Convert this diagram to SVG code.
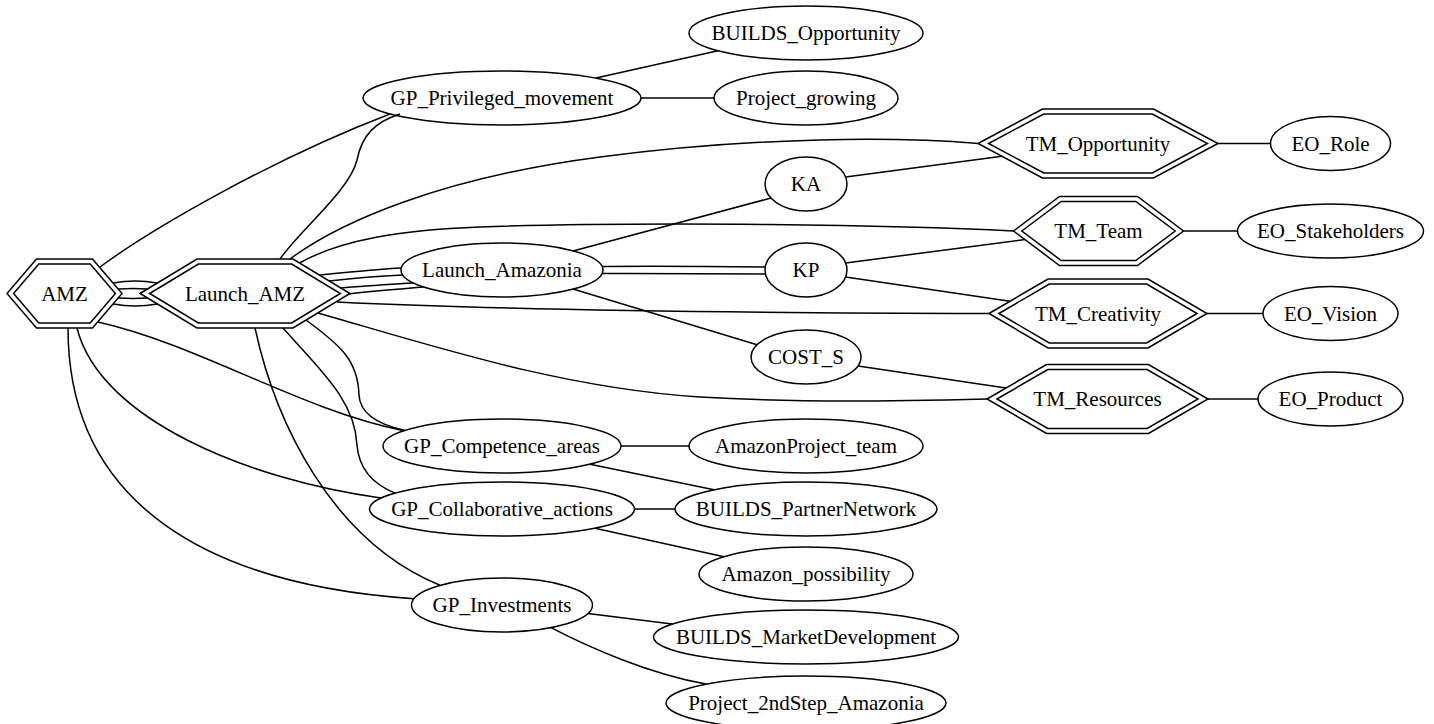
<svg xmlns="http://www.w3.org/2000/svg" width="1434" height="724" viewBox="0 0 1434 724">
  <style>
    .node ellipse, .node polygon { fill: none; stroke: #000; stroke-width: 1.5; }
    text { font-family: "Liberation Serif", "Times New Roman", serif; font-size: 21px; text-anchor: middle; fill: #000; }
    #edges path { fill: none; stroke: #000; stroke-width: 1.5; }
  </style>
  <rect width="1434" height="724" fill="#fff"/>

  <!-- connectors -->
  <g id="edges">
    <!-- from AMZ -->
    <path d="M100,267 C150,230 270,160 390,114"/>
    <path d="M113.2,283 C126,280.5 144,280.5 157.3,283"/>
    <path d="M118.2,289 C128,288.5 138,288.5 147.4,289"/>
    <path d="M118.2,298 C128,298.5 138,298.5 147.4,298"/>
    <path d="M113.2,304 C126,306.5 144,306.5 157.3,304"/>
    <path d="M98,322 C200,345 300,410 404,430.7"/>
    <path d="M77,328 C100,420 250,480 381,498"/>
    <path d="M68,328 C68,505 210,585 414,598.7"/>
    <!-- from Launch_AMZ -->
    <path d="M280,259 C300,230 350,190 357,160 C362,135 375,122 400,114"/>
    <path d="M290,259 C340,222 440,178 600,157 C760,136 900,137 978,143.5"/>
    <path d="M299.6,263 C340,240 400,230 480,227 C650,221 900,225 1013.5,231"/>
    <path d="M320,275 C350,272 380,269 401.3,268"/>
    <path d="M329,281 C355,278 380,276 402.7,275"/>
    <path d="M340,288 C365,286 390,284 413.5,283"/>
    <path d="M348,294 C375,291 400,289 423.5,287"/>
    <path d="M337,302 C500,310 750,313 989,313.5"/>
    <path d="M318,313 C430,345 560,388 700,397 C800,403 900,401 987,399"/>
    <path d="M306,320 C340,345 358,360 359,395 C360,415 380,425 405,430.4"/>
    <path d="M283,328 C320,370 355,400 357,445 C359,470 375,485 395,493.1"/>
    <path d="M255,328 C275,420 330,540 440,585.3"/>
    <!-- from Launch_Amazonia -->
    <path d="M573,251 L771,198"/>
    <path d="M602.2,266.5 C660,266 720,266.5 765.3,267"/>
    <path d="M602.2,273.5 C660,273.5 720,274 765.3,274"/>
    <path d="M573,289 L757,344.7"/>
    <!-- KA / KP / COST_S to TM -->
    <path d="M845.6,177 L1002,156.3"/>
    <path d="M845.6,263 L1025,239.6"/>
    <path d="M845.6,277 L1010,301.2"/>
    <path d="M858,366 L1006,388"/>
    <!-- TM to EO -->
    <path d="M1218,143.5 L1270.5,143.5"/>
    <path d="M1183.5,231 L1237.5,231"/>
    <path d="M1207,313.5 L1263,313.5"/>
    <path d="M1208,399 L1258,399"/>
    <!-- GP nodes to outcomes -->
    <path d="M596,78.1 L718,50.8"/>
    <path d="M641,98 L714,98"/>
    <path d="M621,446 L689,446"/>
    <path d="M590,464.2 L714,489.8"/>
    <path d="M634.5,509 L675,509"/>
    <path d="M595,528.2 L724,556.7"/>
    <path d="M588,613.4 L672,624.1"/>
    <path d="M551,627.7 C590,648 650,674 706,684.1"/>
  </g>

  <!-- double-bordered hexagons -->
  <g id="AMZ" class="node">
    <polygon points="7,293.5 36.5,259 92.5,259 122,293.5 92.5,328 36.5,328"/>
    <polygon points="13.6,293.5 38.8,264 90.2,264 115.4,293.5 90.2,323 38.8,323"/>
    <text x="64.5" y="300.5">AMZ</text>
  </g>
  <g id="Launch_AMZ" class="node">
    <polygon points="140,293.5 197,259 293,259 350,293.5 293,328 197,328"/>
    <polygon points="149.65,293.5 198.4,264 291.6,264 340.35,293.5 291.6,323 198.4,323"/>
    <text x="245" y="300.5">Launch_AMZ</text>
  </g>
  <g id="TM_Opportunity" class="node">
    <polygon points="978,143.5 1042.5,109 1153.5,109 1218,143.5 1153.5,178 1042.5,178"/>
    <polygon points="988.6,143.5 1043.75,114 1152.25,114 1207.4,143.5 1152.25,173 1043.75,173"/>
    <text x="1098" y="150.5">TM_Opportunity</text>
  </g>
  <g id="TM_Team" class="node">
    <polygon points="1013.5,231 1059.5,196.5 1137.5,196.5 1183.5,231 1137.5,265.5 1059.5,265.5"/>
    <polygon points="1021.8,231 1061.2,201.5 1135.8,201.5 1175.2,231 1135.8,260.5 1061.2,260.5"/>
    <text x="1098.5" y="238">TM_Team</text>
  </g>
  <g id="TM_Creativity" class="node">
    <polygon points="989,313.5 1048,279 1148,279 1207,313.5 1148,348 1048,348"/>
    <polygon points="998.9,313.5 1049.35,284 1146.65,284 1197.1,313.5 1146.65,343 1049.35,343"/>
    <text x="1098" y="320.5">TM_Creativity</text>
  </g>
  <g id="TM_Resources" class="node">
    <polygon points="987,399 1046.5,364.5 1148.5,364.5 1208,399 1148.5,433.5 1046.5,433.5"/>
    <polygon points="996.97,399 1047.84,369.5 1147.16,369.5 1198.03,399 1147.16,428.5 1047.84,428.5"/>
    <text x="1097.5" y="406">TM_Resources</text>
  </g>

  <!-- ellipses, middle column -->
  <g id="GP_Privileged_movement" class="node">
    <ellipse cx="502" cy="98" rx="139" ry="27"/>
    <text x="502" y="105">GP_Privileged_movement</text>
  </g>
  <g id="Launch_Amazonia" class="node">
    <ellipse cx="502" cy="270" rx="101" ry="27"/>
    <text x="502" y="277">Launch_Amazonia</text>
  </g>
  <g id="GP_Competence_areas" class="node">
    <ellipse cx="502" cy="446" rx="119" ry="27"/>
    <text x="502" y="453">GP_Competence_areas</text>
  </g>
  <g id="GP_Collaborative_actions" class="node">
    <ellipse cx="502" cy="509" rx="132.5" ry="27"/>
    <text x="502" y="516">GP_Collaborative_actions</text>
  </g>
  <g id="GP_Investments" class="node">
    <ellipse cx="502" cy="605" rx="90.5" ry="27"/>
    <text x="502" y="612">GP_Investments</text>
  </g>

  <!-- ellipses, third column -->
  <g id="BUILDS_Opportunity" class="node">
    <ellipse cx="806" cy="33" rx="117" ry="27"/>
    <text x="806" y="40">BUILDS_Opportunity</text>
  </g>
  <g id="Project_growing" class="node">
    <ellipse cx="806" cy="98" rx="92" ry="27"/>
    <text x="806" y="105">Project_growing</text>
  </g>
  <g id="KA" class="node">
    <ellipse cx="806" cy="184" rx="41" ry="27"/>
    <text x="806" y="191">KA</text>
  </g>
  <g id="KP" class="node">
    <ellipse cx="806" cy="270" rx="41" ry="27"/>
    <text x="806" y="277">KP</text>
  </g>
  <g id="COST_S" class="node">
    <ellipse cx="806" cy="357" rx="55" ry="27"/>
    <text x="806" y="364">COST_S</text>
  </g>
  <g id="AmazonProject_team" class="node">
    <ellipse cx="806" cy="446" rx="117" ry="27"/>
    <text x="806" y="453">AmazonProject_team</text>
  </g>
  <g id="BUILDS_PartnerNetwork" class="node">
    <ellipse cx="806" cy="509" rx="131" ry="27"/>
    <text x="806" y="516">BUILDS_PartnerNetwork</text>
  </g>
  <g id="Amazon_possibility" class="node">
    <ellipse cx="806" cy="574" rx="107" ry="27"/>
    <text x="806" y="581">Amazon_possibility</text>
  </g>
  <g id="BUILDS_MarketDevelopment" class="node">
    <ellipse cx="806" cy="637" rx="152.5" ry="27"/>
    <text x="806" y="644">BUILDS_MarketDevelopment</text>
  </g>
  <g id="Project_2ndStep_Amazonia" class="node">
    <ellipse cx="806" cy="703" rx="140" ry="27"/>
    <text x="806" y="710">Project_2ndStep_Amazonia</text>
  </g>

  <!-- ellipses, right column -->
  <g id="EO_Role" class="node">
    <ellipse cx="1330.5" cy="143.5" rx="60" ry="27"/>
    <text x="1330.5" y="150.5">EO_Role</text>
  </g>
  <g id="EO_Stakeholders" class="node">
    <ellipse cx="1330.5" cy="231" rx="93" ry="27"/>
    <text x="1330.5" y="238">EO_Stakeholders</text>
  </g>
  <g id="EO_Vision" class="node">
    <ellipse cx="1330.5" cy="313.5" rx="67.5" ry="27"/>
    <text x="1330.5" y="320.5">EO_Vision</text>
  </g>
  <g id="EO_Product" class="node">
    <ellipse cx="1330.5" cy="399" rx="72.5" ry="27"/>
    <text x="1330.5" y="406">EO_Product</text>
  </g>
</svg>
